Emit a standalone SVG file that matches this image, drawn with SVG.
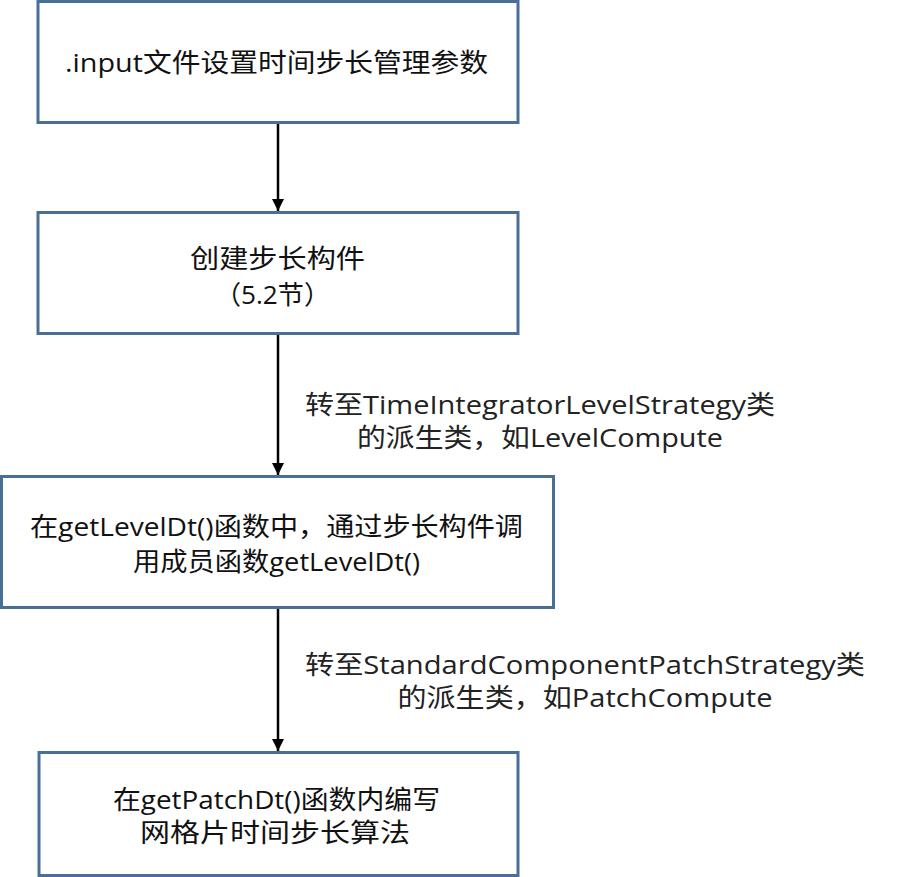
<svg xmlns="http://www.w3.org/2000/svg" width="900" height="877" viewBox="0 0 900 877">
<defs>
<style>
.box{fill:#fff;stroke:#4a6f96;stroke-width:3}
.t{font-family:"Open Sans","Noto Sans CJK SC",sans-serif;font-size:26px;fill:#111;text-anchor:middle}
.lbl{font-family:"Open Sans","Noto Sans CJK SC",sans-serif;font-size:26px;fill:#222;text-anchor:middle}
.conn{stroke:#000;stroke-width:2.5;fill:none}
</style>
<marker id="ah" markerWidth="12" markerHeight="14" refX="12" refY="7" orient="auto" markerUnits="userSpaceOnUse">
<path d="M0,1 L12,7 L0,13 Z" fill="#000"/>
</marker>
</defs>
<rect width="900" height="877" fill="#fff"/>
<g id="connectors">
<line class="conn" x1="278" y1="123" x2="278" y2="211" marker-end="url(#ah)"/>
<line class="conn" x1="278" y1="334" x2="278" y2="475" marker-end="url(#ah)"/>
<text class="lbl" x="540" y="414" textLength="470" lengthAdjust="spacingAndGlyphs">转至TimeIntegratorLevelStrategy类</text>
<text class="lbl" x="540" y="447" textLength="366" lengthAdjust="spacingAndGlyphs">的派生类，如LevelCompute</text>
<line class="conn" x1="278" y1="608" x2="278" y2="751" marker-end="url(#ah)"/>
<text class="lbl" x="585" y="674" textLength="560" lengthAdjust="spacingAndGlyphs">转至StandardComponentPatchStrategy类</text>
<text class="lbl" x="585" y="707" textLength="375" lengthAdjust="spacingAndGlyphs">的派生类，如PatchCompute</text>
</g>
<g id="n1">
<rect class="box" x="38" y="1.5" width="480" height="121"/>
<text class="t" x="276.5" y="72" textLength="423" lengthAdjust="spacingAndGlyphs">.input文件设置时间步长管理参数</text>
</g>
<g id="n2">
<rect class="box" x="38" y="212.5" width="480" height="121"/>
<text class="t" x="277.5" y="268" textLength="175" lengthAdjust="spacingAndGlyphs">创建步长构件</text>
<text class="t" x="272.5" y="304" textLength="115" lengthAdjust="spacingAndGlyphs">（5.2节）</text>
</g>
<g id="n3">
<rect class="box" x="1.5" y="476.5" width="552" height="131"/>
<text class="t" x="276.5" y="536" textLength="493" lengthAdjust="spacingAndGlyphs">在getLevelDt()函数中，通过步长构件调</text>
<text class="t" x="276.5" y="571" textLength="287" lengthAdjust="spacingAndGlyphs">用成员函数getLevelDt()</text>
</g>
<g id="n4">
<rect class="box" x="39" y="752.5" width="479" height="123"/>
<text class="t" x="276.5" y="809" textLength="327" lengthAdjust="spacingAndGlyphs">在getPatchDt()函数内编写</text>
<text class="t" x="275" y="842" textLength="270" lengthAdjust="spacingAndGlyphs">网格片时间步长算法</text>
</g>
</svg>
